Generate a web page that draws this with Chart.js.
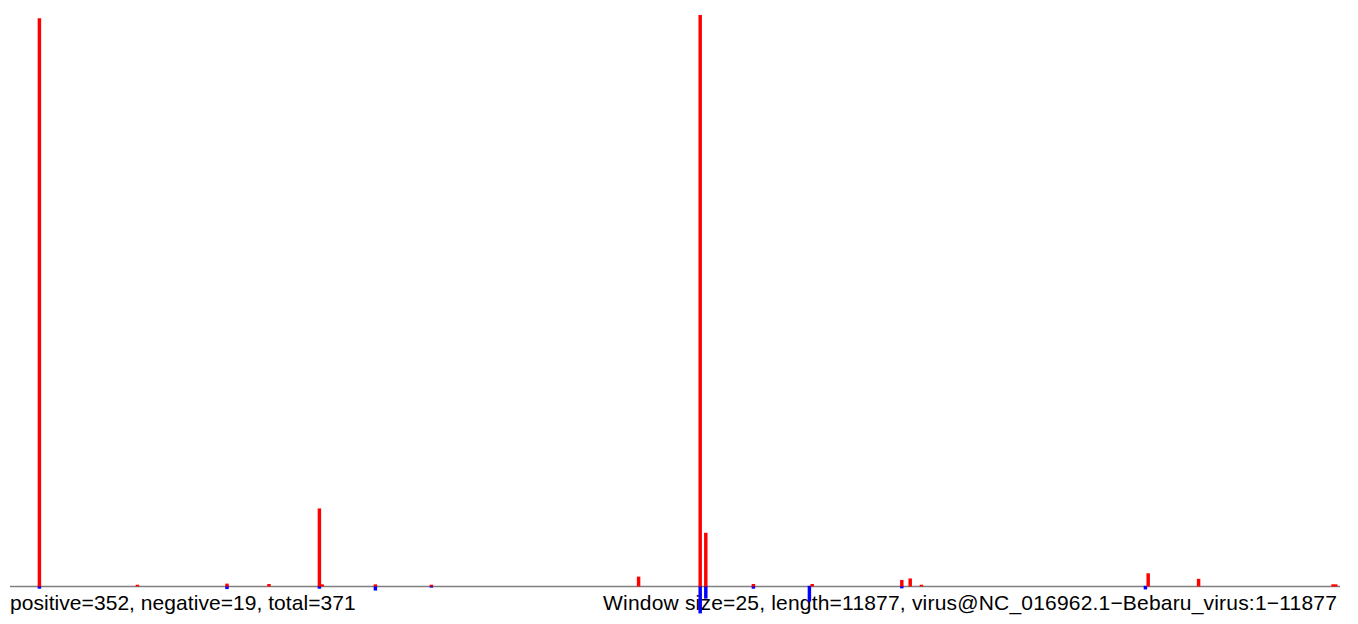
<!DOCTYPE html>
<html>
<head>
<meta charset="utf-8">
<script src="https://cdn.jsdelivr.net/npm/chart.js@4.4.1/dist/chart.umd.min.js"></script>
<style>
  html, body { margin: 0; padding: 0; background: #fff; }
  #wrap { position: relative; width: 1358px; height: 624px; overflow: hidden; }
  #coverageChart { position: absolute; left: 0; top: 0; z-index: 2; }
  .label {
    position: absolute;
    z-index: 1;
    top: 591px;
    font-family: "Liberation Sans", Arial, Helvetica, sans-serif;
    font-size: 21px;
    line-height: 24px;
    color: #000;
    white-space: nowrap;
  }
  #leftLabel { left: 10px; letter-spacing: 0.05px; }
  #rightLabel { right: 21px; letter-spacing: 0.19px; }
</style>
</head>
<body>
<div id="wrap">
  <div class="label" id="leftLabel">positive=352, negative=19, total=371</div>
  <div class="label" id="rightLabel">Window size=25, length=11877, virus@NC_016962.1−Bebaru_virus:1−11877</div>
  <canvas id="coverageChart" width="1358" height="624"></canvas>
</div>
<script>
// genome / window settings
const genomeLength = 11877;
const windowSize = 25;

// windows (index) that carry reads
const hitWindows    = [10, 45, 77, 92, 110, 111, 130, 150, 224, 246, 248, 265, 285, 286, 318, 321, 325, 405, 406, 424, 472, 473];
const positiveReads = [154, 0.3, 0.6, 0.5, 21, 0.4, 0.4, 0.3, 2.5, 155, 14.4, 0.5, 0, 0.5, 1.6, 2, 0.3, 0, 3.4, 1.9, 0.4, 0.4];
const negativeReads = [0.6, 0, 0.7, 0, 0.6, 0, 1.1, 0.3, 0, 7.3, 3.3, 0.6, 4.1, 0, 0.5, 0, 0, 0.8, 0, 0, 0, 0];

const nWindows = Math.floor(genomeLength / windowSize);
const windowLabels = [];
const posSeries = [];
const negSeries = [];
for (let i = 0; i < nWindows; i++) {
  windowLabels.push(i * windowSize + 1);
  posSeries.push(null);
  negSeries.push(null);
}
hitWindows.forEach((w, k) => {
  if (positiveReads[k] > 0) posSeries[w] = positiveReads[k];
  if (negativeReads[k] > 0) negSeries[w] = -negativeReads[k];
});

// grey zero line under the bars
const baseline = {
  id: "baseline",
  beforeDatasetsDraw(chart) {
    const { ctx, chartArea, scales } = chart;
    const y = Math.round(scales.y.getPixelForValue(0)) + 0.5;
    ctx.save();
    ctx.strokeStyle = "#7f7f7f";
    ctx.lineWidth = 1.5;
    ctx.beginPath();
    ctx.moveTo(chartArea.left, y);
    ctx.lineTo(chartArea.right, y);
    ctx.stroke();
    ctx.restore();
  }
};

new Chart(document.getElementById("coverageChart"), {
  type: "bar",
  data: {
    labels: windowLabels,
    datasets: [
      {
        label: "positive",
        data: posSeries,
        backgroundColor: "#ff0000",
        borderWidth: 0,
        barPercentage: 1,
        categoryPercentage: 1
      },
      {
        label: "negative",
        data: negSeries,
        backgroundColor: "#0000ff",
        borderWidth: 0,
        barPercentage: 1,
        categoryPercentage: 1
      }
    ]
  },
  options: {
    responsive: false,
    animation: false,
    layout: { padding: { left: 10, right: 18, top: 15, bottom: 1 } },
    plugins: {
      legend: { display: false },
      tooltip: { enabled: false }
    },
    scales: {
      x: { display: false, stacked: true },
      y: { display: false, stacked: true, min: -10, max: 155 }
    }
  },
  plugins: [baseline]
});
</script>
</body>
</html>
